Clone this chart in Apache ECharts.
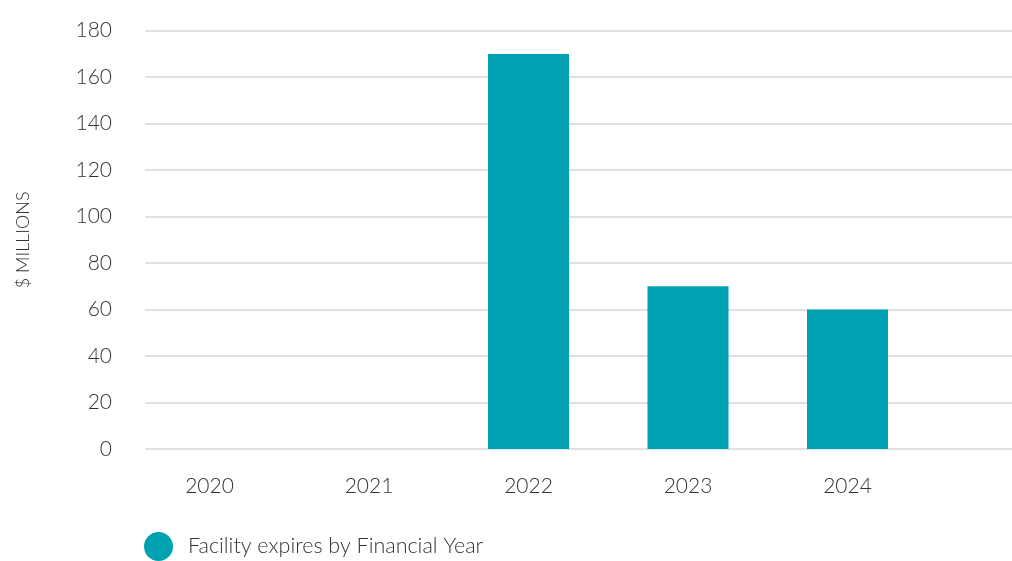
<!DOCTYPE html>
<html>
<head>
<meta charset="utf-8">
<script src="https://cdn.jsdelivr.net/npm/echarts@6/dist/echarts.min.js"></script>
<style>
html,body{margin:0;padding:0;background:#fff;}
#chart{width:1012px;height:561px;}
</style>
</head>
<body>
<div id="chart"></div>
<script>
const categories = ['2020', '2021', '2022', '2023', '2024'];
const facilityExpires = [0, 0, 170, 70, 60];
const seriesName = 'Facility expires by Financial Year';
const yAxisTitle = '$ MILLIONS';
const yMin = 0, yMax = 180, yStep = 20;

const FONT = 'Lato';
const TEXT = '#333333';
const BAR = '#00A2B1';

const chart = echarts.init(document.getElementById('chart'));
chart.setOption({
  animation: false,
  grid: [
    { left: 145, right: 0, top: 30.7, bottom: 112 },
    { left: 129.75, width: 797.5, top: 30.7, bottom: 112 }
  ],
  legend: {
    data: [seriesName],
    left: 144, top: 532, padding: 0,
    icon: 'circle', itemWidth: 29, itemHeight: 29, itemGap: 10,
    textStyle: { fontFamily: FONT, fontWeight: 300, fontSize: 21.5, color: TEXT, padding: [2, 0, 0, 10] }
  },
  xAxis: [
    { gridIndex: 0, type: 'category', data: categories, show: false },
    {
      gridIndex: 1, type: 'category', data: categories,
      axisLine: { show: false }, axisTick: { show: false },
      axisLabel: { margin: 27, fontFamily: FONT, fontWeight: 300, fontSize: 21, color: TEXT }
    }
  ],
  yAxis: [
    {
      gridIndex: 0, type: 'value', min: yMin, max: yMax, interval: yStep,
      name: yAxisTitle, nameLocation: 'middle', nameRotate: 90, nameGap: 113,
      nameTextStyle: { fontFamily: FONT, fontWeight: 300, fontSize: 18, color: TEXT },
      axisLine: { show: false }, axisTick: { show: false },
      axisLabel: { margin: 33, fontFamily: FONT, fontWeight: 300, fontSize: 21, color: TEXT },
      splitLine: { lineStyle: { color: '#e0e0e0', width: 2 } }
    },
    { gridIndex: 1, type: 'value', min: yMin, max: yMax, interval: yStep, show: false, splitLine: { show: false } }
  ],
  series: [{
    name: seriesName, type: 'bar', xAxisIndex: 1, yAxisIndex: 1,
    data: facilityExpires, barWidth: 81,
    itemStyle: { color: BAR }
  }]
});
</script>
</body>
</html>
